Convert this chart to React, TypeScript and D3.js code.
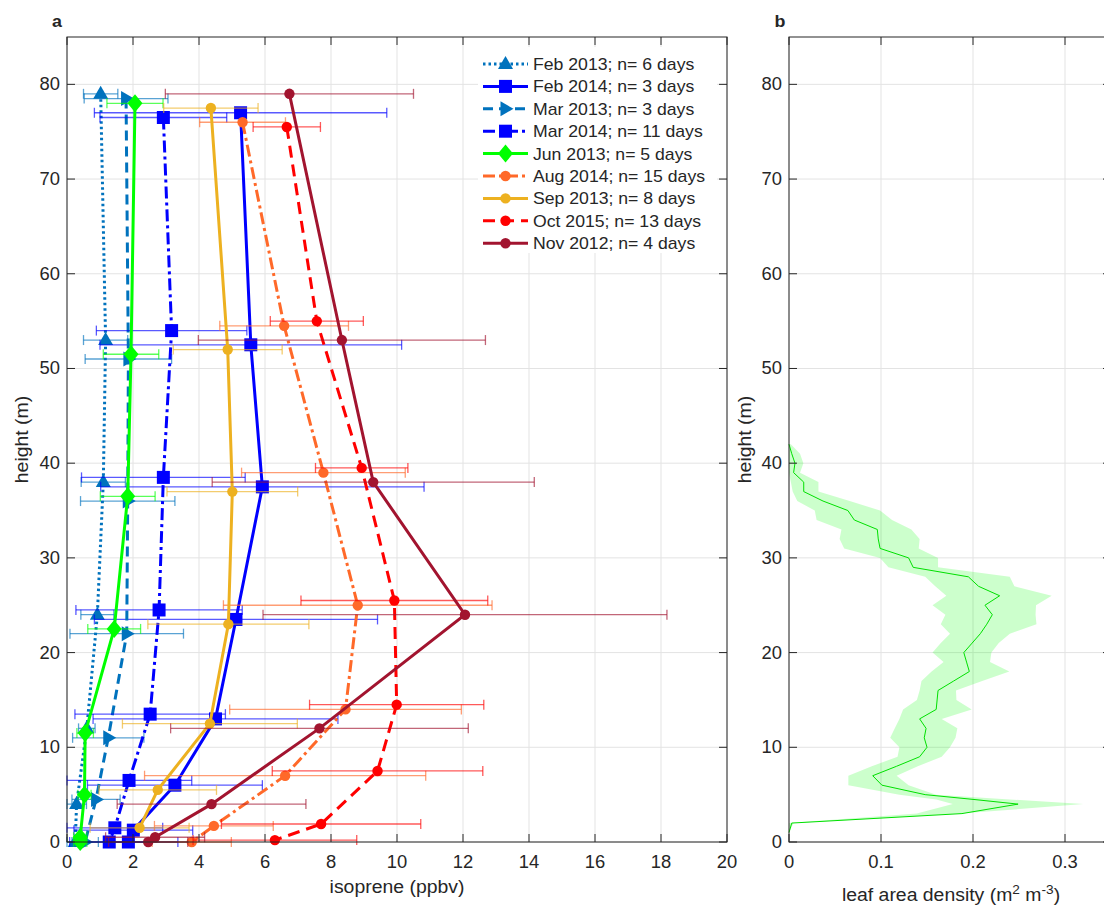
import React from 'react';
import * as d3 from 'd3';

// ---------------- data ----------------
const seriesNames = [
  'Feb 2013; n= 6 days',
  'Feb 2014; n= 3 days',
  'Mar 2013; n= 3 days',
  'Mar 2014; n= 11 days',
  'Jun 2013; n= 5 days',
  'Aug 2014; n= 15 days',
  'Sep 2013; n= 8 days',
  'Oct 2015; n= 13 days',
  'Nov 2012; n= 4 days',
];

const feb2013Height = [79, 53, 38, 24, 12, 4, 0];
const feb2013Iso = [1.02, 1.17, 1.1, 0.92, 0.6, 0.29, 0.25];
const feb2013Err = [0.52, 0.67, 0.67, 0.5, 0.25, 0.3, 0.3];

const feb2014Height = [77, 52.5, 37.5, 23.5, 13, 6, 1.25, 0];
const feb2014Iso = [5.26, 5.57, 5.92, 5.12, 4.5, 3.27, 2.01, 1.86];
const feb2014Err = [4.43, 4.57, 4.9, 4.29, 3.71, 2.65, 1.8, 1.5];

const mar2013Height = [78.5, 51, 36, 22, 11, 4.5, 0];
const mar2013Iso = [1.79, 1.86, 1.84, 1.81, 1.25, 0.88, 0.55];
const mar2013Err = [1.27, 1.31, 1.43, 1.72, 1.08, 0.73, 0.4];

const mar2014Height = [76.5, 54, 38.5, 24.5, 13.5, 6.5, 1.5, 0];
const mar2014Iso = [2.92, 3.17, 2.92, 2.79, 2.52, 1.88, 1.45, 1.28];
const mar2014Err = [1.92, 2.28, 2.48, 2.52, 2.28, 1.9, 1.45, 1.2];

const jun2013Height = [78, 51.5, 36.5, 22.5, 11.5, 5, 0.5, 0];
const jun2013Iso = [2.06, 1.94, 1.84, 1.43, 0.55, 0.53, 0.4, 0.4];
const jun2013Err = [0.85, 0.84, 0.83, 0.8, 0.25, 0.2, 0.2, 0.2];

const aug2014Height = [76, 54.5, 39, 25, 14, 7, 1.7, 0];
const aug2014Iso = [5.32, 6.58, 7.77, 8.81, 8.44, 6.61, 4.45, 3.78];
const aug2014Err = [1.3, 1.95, 2.48, 4.07, 3.51, 4.26, 1.8, 1.2];

const sep2013Height = [77.5, 52, 37, 23, 12.5, 5.5, 1.5];
const sep2013Iso = [4.36, 4.87, 5.01, 4.89, 4.33, 2.75, 2.2];
const sep2013Err = [1.43, 1.65, 1.98, 2.44, 2.65, 1.78, 1.5];

const oct2015Height = [75.5, 55, 39.5, 25.5, 14.5, 7.5, 1.9, 0.2];
const oct2015Iso = [6.66, 7.57, 8.93, 9.92, 9.99, 9.41, 7.7, 6.3];
const oct2015Err = [1.02, 1.41, 1.4, 2.83, 2.64, 3.19, 3.02, 2.48];

const nov2012Height = [79, 53, 38, 24, 12, 4, 0.5, 0];
const nov2012Iso = [6.74, 8.33, 9.28, 12.06, 7.65, 4.38, 2.67, 2.46];
const nov2012Err = [3.76, 4.35, 4.88, 6.12, 4.51, 2.86, 1.5, 1.2];

const isoTicks = [0, 2, 4, 6, 8, 10, 12, 14, 16, 18, 20];
const heightTicks = [0, 10, 20, 30, 40, 50, 60, 70, 80];
const ladTicks = [0, 0.1, 0.2, 0.3];

// leaf area density profile
const ladHeight = [42, 41, 40, 39, 38, 37, 36, 35, 34, 33, 32, 31, 30, 29, 28, 27, 26, 25, 24, 23, 22, 21, 20, 19, 18, 17, 16, 15, 14, 13, 12, 11, 10, 9, 8, 7, 6, 5, 4.5, 4, 3, 2, 1];
const ladMean = [0, 0.003, 0.0065, 0.005, 0.016, 0.016, 0.037, 0.064, 0.071, 0.096, 0.097, 0.099, 0.13, 0.135, 0.195, 0.206, 0.229, 0.213, 0.221, 0.215, 0.208, 0.199, 0.19, 0.193, 0.196, 0.179, 0.162, 0.161, 0.16, 0.142, 0.149, 0.147, 0.15, 0.142, 0.117, 0.091, 0.101, 0.148, 0.2, 0.249, 0.188, 0.003, 0];
const ladLow = [0, 0, 0, 0, 0.002, 0.004, 0.009, 0.028, 0.03, 0.057, 0.055, 0.06, 0.099, 0.108, 0.148, 0.159, 0.171, 0.156, 0.17, 0.165, 0.175, 0.165, 0.156, 0.168, 0.155, 0.144, 0.142, 0.139, 0.124, 0.12, 0.115, 0.11, 0.12, 0.118, 0.09, 0.0645, 0.0645, 0.12, 0.16, 0.178, 0.139, 0, 0];
const ladHigh = [0.002, 0.012, 0.0156, 0.012, 0.032, 0.032, 0.066, 0.099, 0.112, 0.133, 0.142, 0.141, 0.162, 0.162, 0.24, 0.245, 0.2855, 0.2685, 0.268, 0.269, 0.24, 0.228, 0.22, 0.2185, 0.2395, 0.21, 0.1815, 0.182, 0.1986, 0.166, 0.183, 0.181, 0.175, 0.166, 0.14, 0.117, 0.13, 0.16, 0.24, 0.32, 0.186, 0.005, 0];

// ---------------- styles ----------------
const seriesColors = ['#0072BD', '#0000FF', '#0072BD', '#0000FF', '#00FF00', '#FF6929', '#EDB120', '#FF0000', '#A2142F'];
const seriesDash = ['2.5,3', null, '10,6', '12,4,3,4', null, '12,4,3,4', null, '12,7', null];
const seriesMarker = ['tri', 'square', 'triR', 'square', 'diamond', 'circle', 'circle', 'circle', 'circle'];

const seriesData = [
  [feb2013Height, feb2013Iso, feb2013Err],
  [feb2014Height, feb2014Iso, feb2014Err],
  [mar2013Height, mar2013Iso, mar2013Err],
  [mar2014Height, mar2014Iso, mar2014Err],
  [jun2013Height, jun2013Iso, jun2013Err],
  [aug2014Height, aug2014Iso, aug2014Err],
  [sep2013Height, sep2013Iso, sep2013Err],
  [oct2015Height, oct2015Iso, oct2015Err],
  [nov2012Height, nov2012Iso, nov2012Err],
];

const FONT = 'Liberation Sans, Arial, Helvetica, sans-serif';
const TXT = '#262626';
const SX = 1.05;
const GRID = '#e3e3e3';

const W = 1104;
const H = 907;
const top = 37;
const bottom = 842;
const aLeft = 67;
const aRight = 727;
const bLeft = 789;
const bRight = 1111;

const xA = d3.scaleLinear().domain([0, 20]).range([aLeft, aRight]);
const yS = d3.scaleLinear().domain([0, 85]).range([bottom, top]);
const xB = d3.scaleLinear().domain([0, 0.35]).range([bLeft, bRight]);

function T(props: any) {
  const { x, y, anchor = 'middle', size = 17, weight = 'normal', rotate = 0, children } = props;
  return (
    <g transform={`translate(${x},${y}) rotate(${rotate}) scale(${SX},1)`}>
      <text textAnchor={anchor} fontSize={size} fontWeight={weight} fontFamily={FONT} fill={TXT}>
        {children}
      </text>
    </g>
  );
}

function Marker(props: any) {
  const { type, x, y, color } = props;
  if (type === 'square') {
    return <rect x={x - 6.5} y={y - 6.5} width={13} height={13} fill={color} />;
  }
  if (type === 'circle') {
    return <circle cx={x} cy={y} r={5.2} fill={color} />;
  }
  if (type === 'diamond') {
    return <path d={`M${x},${y - 9}L${x + 7.5},${y}L${x},${y + 9}L${x - 7.5},${y}Z`} fill={color} />;
  }
  if (type === 'tri') {
    return <path d={`M${x},${y - 8}L${x + 7.5},${y + 5}L${x - 7.5},${y + 5}Z`} fill={color} />;
  }
  if (type === 'triR') {
    return <path d={`M${x + 8},${y}L${x - 5},${y + 7.5}L${x - 5},${y - 7.5}Z`} fill={color} />;
  }
  return null;
}

function Grid(props: any) {
  const { left, right, xTicks, xs } = props;
  return (
    <g>
      {xTicks.map((t: number) => (
        <line key={'gx' + t} x1={xs(t)} x2={xs(t)} y1={top} y2={bottom} stroke={GRID} strokeWidth={1} />
      ))}
      {heightTicks.map((t) => (
        <line key={'gy' + t} x1={left} x2={right} y1={yS(t)} y2={yS(t)} stroke={GRID} strokeWidth={1} />
      ))}
    </g>
  );
}

function Axes(props: any) {
  const { left, right, xTicks, xs, xFmt } = props;
  const tl = 8;
  return (
    <g>
      <rect x={left} y={top} width={right - left} height={bottom - top} fill="none" stroke={TXT} strokeWidth={1} />
      {xTicks.map((t: number) => (
        <g key={'tx' + t}>
          <line x1={xs(t)} x2={xs(t)} y1={bottom} y2={bottom - tl} stroke={TXT} />
          <line x1={xs(t)} x2={xs(t)} y1={top} y2={top + tl} stroke={TXT} />
          <T x={xs(t)} y={bottom + 26} size={17.5}>{xFmt(t)}</T>
        </g>
      ))}
      {heightTicks.map((t) => (
        <g key={'ty' + t}>
          <line x1={left} x2={left + tl} y1={yS(t)} y2={yS(t)} stroke={TXT} />
          <line x1={right} x2={right - tl} y1={yS(t)} y2={yS(t)} stroke={TXT} />
          <T x={left - 7} y={yS(t) + 6} anchor="end" size={17.5}>{String(t)}</T>
        </g>
      ))}
    </g>
  );
}

export default function App() {
  const lineGen = d3
    .line<[number, number]>()
    .x((d) => xA(d[0]))
    .y((d) => yS(d[1]));

  const ladIdx = ladHeight.map((_, i) => i);
  const ladArea = d3
    .area<number>()
    .y((i) => yS(ladHeight[i]))
    .x0((i) => xB(ladLow[i]))
    .x1((i) => xB(ladHigh[i]));
  const ladLine = d3
    .line<number>()
    .x((i) => xB(ladMean[i]))
    .y((i) => yS(ladHeight[i]));

  const legX0 = 483;
  const legX1 = 528;
  const legTop = 64;
  const legStep = 22.4;

  return (
    <svg width={W} height={H} style={{ position: 'absolute', left: 0, top: 0, background: '#fff' }}>
      <rect x={0} y={0} width={W} height={H} fill="#fff" />

      {/* panel a */}
      <Grid left={aLeft} right={aRight} xTicks={isoTicks} xs={xA} />

      {seriesData.map((s, si) => {
        const [hs, xs, es] = s as number[][];
        const col = seriesColors[si];
        return (
          <g key={'s' + si}>
            {hs.map((h, i) => {
              const y = yS(h);
              const x0 = xA(Math.max(0, xs[i] - es[i]));
              const x1 = xA(xs[i] + es[i]);
              return (
                <g key={'e' + i} stroke={col} strokeOpacity={0.65} strokeWidth={1.3}>
                  <line x1={x0} x2={x1} y1={y} y2={y} />
                  <line x1={x0} x2={x0} y1={y - 5} y2={y + 5} />
                  <line x1={x1} x2={x1} y1={y - 5} y2={y + 5} />
                </g>
              );
            })}
            <path
              d={lineGen(hs.map((h, i) => [xs[i], h] as [number, number])) || ''}
              fill="none"
              stroke={col}
              strokeWidth={3}
              strokeDasharray={seriesDash[si] || undefined}
            />
            {hs.map((h, i) => (
              <Marker key={'m' + i} type={seriesMarker[si]} x={xA(xs[i])} y={yS(h)} color={col} />
            ))}
          </g>
        );
      })}

      {/* legend */}
      <rect x={478} y={47} width={239} height={206} fill="#fff" />
      {seriesNames.map((n, i) => {
        const y = legTop + i * legStep;
        const col = seriesColors[i];
        return (
          <g key={'l' + i}>
            <line x1={legX0} x2={legX1} y1={y} y2={y} stroke={col} strokeWidth={3} strokeDasharray={seriesDash[i] || undefined} />
            <Marker type={seriesMarker[i]} x={(legX0 + legX1) / 2} y={y} color={col} />
            <T x={533} y={y + 6} anchor="start" size={16.8}>{n}</T>
          </g>
        );
      })}

      <Axes left={aLeft} right={aRight} xTicks={isoTicks} xs={xA} xFmt={(t: number) => String(t)} />
      <T x={(aLeft + aRight) / 2} y={893} size={18.5}>isoprene (ppbv)</T>
      <T x={28} y={(top + bottom) / 2} size={18.5} rotate={-90}>height (m)</T>
      <T x={57} y={27} size={17} weight="bold">a</T>

      {/* panel b */}
      <Grid left={bLeft} right={bRight} xTicks={ladTicks} xs={xB} />
      <path d={ladArea(ladIdx) || ''} fill="#00FF00" fillOpacity={0.2} stroke="none" />
      <path d={ladLine(ladIdx) || ''} fill="none" stroke="#00E000" strokeWidth={1} />
      <Axes left={bLeft} right={bRight} xTicks={ladTicks} xs={xB} xFmt={(t: number) => String(t)} />
      <g transform={`translate(951,901) scale(${SX},1)`}>
        <text textAnchor="middle" fontSize={18.5} fontFamily={FONT} fill={TXT}>
          leaf area density (m<tspan dy={-7} fontSize={13}>2</tspan>
          <tspan dy={7}> m</tspan>
          <tspan dy={-7} fontSize={13}>-3</tspan>
          <tspan dy={7}>)</tspan>
        </text>
      </g>
      <T x={751} y={(top + bottom) / 2} size={18.5} rotate={-90}>height (m)</T>
      <T x={780} y={27} size={17} weight="bold">b</T>
    </svg>
  );
}
